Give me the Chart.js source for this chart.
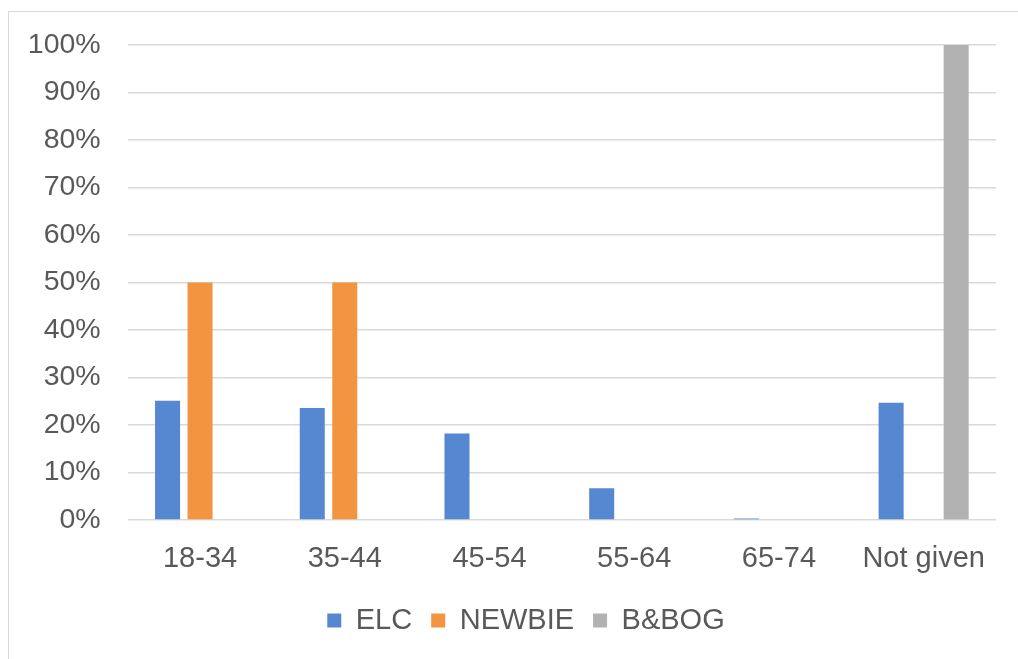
<!DOCTYPE html>
<html>
<head>
<meta charset="utf-8">
<script src="https://cdn.jsdelivr.net/npm/chart.js@4/dist/chart.umd.min.js"></script>
<style>
  html, body { margin: 0; padding: 0; background: #fff; }
  #frame { position: absolute; left: 8px; top: 11px; width: 1100px; height: 700px; border: 1.5px solid #d9d9d9; box-sizing: border-box; }
  #wrap { position: absolute; left: 0; top: 0; width: 1018px; height: 659px; }
</style>
</head>
<body>
<div id="frame"></div>
<div id="wrap"><canvas id="c" width="1018" height="659"></canvas></div>
<script>
const categories = ["18-34", "35-44", "45-54", "55-64", "65-74", "Not given"];
const seriesNames = ["ELC", "NEWBIE", "B&BOG"];
const elc = [25.1, 23.6, 18.2, 6.7, 0.3, 24.7];
const newbie = [50, 50, 0, 0, 0, 0];
const bbog = [0, 0, 0, 0, 0, 100];
const yTicks = [0, 10, 20, 30, 40, 50, 60, 70, 80, 90, 100];

const colors = ["#5688D1", "#F39441", "#B2B2B2"];
const textColor = "#595959";
const fontFamily = "'Liberation Sans', Arial, sans-serif";

const legendShift = {
  id: "legendShift",
  beforeDraw(chart) {
    const lg = chart.legend;
    if (lg && !lg._shifted) {
      lg.left += 28; lg.right += 28;
      lg._shifted = true;
    }
  }
};

const ctx = document.getElementById("c");
new Chart(ctx, {
  type: "bar",
  data: {
    labels: categories,
    datasets: [elc, newbie, bbog].map((d, i) => ({
      label: seriesNames[i],
      data: d,
      backgroundColor: colors[i],
      borderWidth: 0,
      categoryPercentage: 0.674,
      barPercentage: 0.77
    }))
  },
  plugins: [legendShift],
  options: {
    responsive: false,
    animation: false,
    devicePixelRatio: 1,
    layout: { padding: { left: 0, top: 45, right: 22, bottom: 14 } },
    plugins: {
      tooltip: { enabled: false },
      legend: {
        position: "bottom",
        labels: {
          color: textColor,
          font: { family: fontFamily, size: 29 },
          boxWidth: 14,
          boxHeight: 14,
          padding: 19
        }
      }
    },
    scales: {
      x: {
        grid: { display: false, drawTicks: false },
        border: { display: false },
        ticks: { color: textColor, font: { family: fontFamily, size: 29 }, padding: 22 },
        afterFit: s => { s.height = 67; }
      },
      y: {
        min: 0,
        max: 100,
        afterBuildTicks: s => { s.ticks = yTicks.map(v => ({ value: v })); },
        grid: { color: "#d9d9d9", lineWidth: 1.4, drawTicks: false },
        border: { display: false },
        ticks: {
          color: textColor,
          font: { family: fontFamily, size: 28.5 },
          padding: 27,
          callback: v => v + "%"
        },
        afterFit: s => { s.width = 127.7; }
      }
    }
  }
});
</script>
</body>
</html>
